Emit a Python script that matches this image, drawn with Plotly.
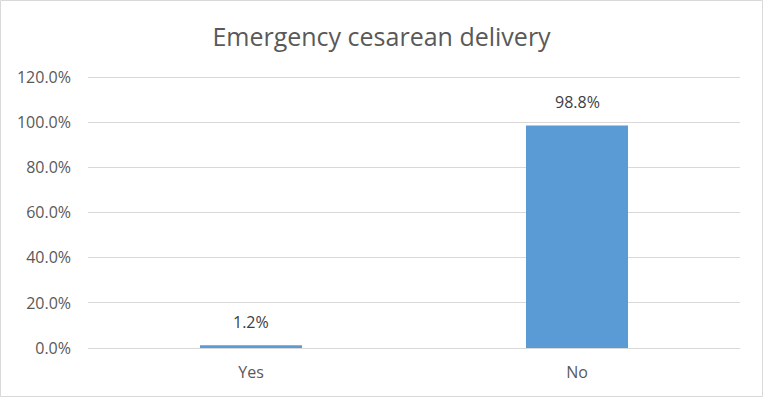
import plotly.graph_objects as go

categories = ["Yes", "No"]
values = [1.2, 98.8]
labels = ["1.2%", "98.8%"]
tick_vals = [0, 20, 40, 60, 80, 100, 120]
tick_text = ["0.0%", "20.0%", "40.0%", "60.0%", "80.0%", "100.0%", "120.0%"]

W, H = 763, 397
L, R, T, B = 88, 23, 74, 49
pw, ph = W - L - R, H - T - B
YMAX = 121.6

fig = go.Figure(go.Bar(
    x=categories, y=values,
    marker=dict(color="#5B9BD5", line=dict(width=0)),
    hoverinfo="skip",
))

for c, v, t in zip(categories, values, labels):
    fig.add_annotation(x=c, y=v, text=t, showarrow=False, yanchor="bottom",
                       yshift=10, font=dict(size=16, color="#404040"))

def px_x(p):
    return (p - L) / pw

def px_y(p):
    return (H - B - p) / ph

fig.add_shape(type="rect", xref="paper", yref="paper",
              x0=px_x(0.5), x1=px_x(W - 0.5), y0=px_y(H - 0.5), y1=px_y(0.5),
              line=dict(color="#D9D9D9", width=1), layer="below")

fig.update_layout(
    width=W, height=H,
    margin=dict(l=L, r=R, t=T, b=B),
    paper_bgcolor="white", plot_bgcolor="white",
    font=dict(family="Open Sans, Liberation Sans, sans-serif", color="#595959"),
    title=dict(text="Emergency cesarean delivery", x=0.5, xanchor="center",
               y=1 - 37 / H, yanchor="middle",
               font=dict(size=25, color="#595959")),
    bargap=0.687,
    showlegend=False,
    hovermode=False,
    xaxis=dict(showgrid=False, showline=True, linecolor="#D9D9D9", linewidth=1,
               tickfont=dict(size=16, color="#595959"), ticks="",
               ticklabelstandoff=10, fixedrange=True),
    yaxis=dict(range=[0, YMAX], tickvals=tick_vals, ticktext=tick_text,
               showgrid=True, gridcolor="#D9D9D9", gridwidth=1,
               zeroline=False, showline=False, ticks="", fixedrange=True,
               tickfont=dict(size=16, color="#595959"), ticklabelstandoff=16),
)

fig.write_html("out.html", config={"displayModeBar": False},
               post_script="document.body.style.margin='0';document.body.style.padding='0';")
